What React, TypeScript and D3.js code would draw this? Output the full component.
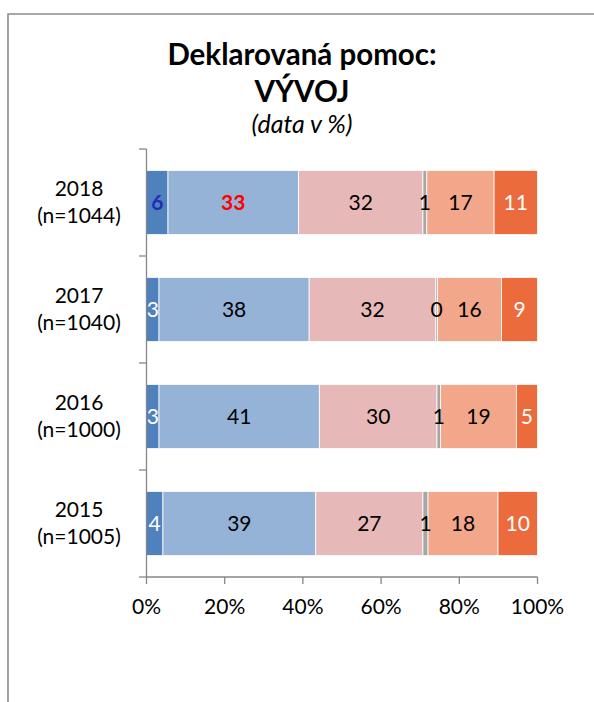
import React from "react"
import * as d3 from "d3"

// years and sample sizes (top to bottom)
const years = ["2018", "2017", "2016", "2015"]
const sampleSizes = ["(n=1044)", "(n=1040)", "(n=1000)", "(n=1005)"]

// answer shares in %, one array per segment, in year order
const seg1 = [5.5, 3.2, 3.2, 4.2]
const seg2 = [33.4, 38.4, 41.0, 39.1]
const seg3 = [31.8, 32.4, 30.1, 27.4]
const seg4 = [1.0, 0.4, 0.9, 1.3]
const seg5 = [17.2, 16.4, 19.4, 17.9]
const seg6 = [11.1, 9.2, 5.4, 10.1]

const xTicks = [0, 20, 40, 60, 80, 100]

const segColors = ["#4f81bd", "#95b3d7", "#e6b9b8", "#a6a6a6", "#f2a68a", "#eb6b3d"]
const labelColors = ["#ffffff", "#000000", "#000000", "#000000", "#000000", "#ffffff"]

const W = 594
const H = 702
const font = "Lato, 'Open Sans', sans-serif"
const axisColor = "#868686"

export default function App() {
    const series = [seg1, seg2, seg3, seg4, seg5, seg6]
    const rows = years.map((y, i) => {
        const row: any = { year: y }
        series.forEach((s, k) => (row["s" + k] = s[i]))
        return row
    })
    const keys = series.map((s, k) => "s" + k)
    const stacked = d3.stack().keys(keys)(rows)

    const x = d3.scaleLinear().domain([0, 100]).range([146.5, 537.5])
    const y = d3.scaleBand().domain(years).range([149, 577]).paddingInner(0.4).paddingOuter(0.2)

    const labelStyle = (k: number, i: number) => {
        // highlighted values in the 2018 row
        if (i === 0 && k === 0) return { fill: "#1f2fb5", weight: 700 }
        if (i === 0 && k === 1) return { fill: "#ff0000", weight: 700 }
        return { fill: labelColors[k], weight: 400 }
    }

    return (
        <svg width={W} height={H} style={{ position: "absolute", left: 0, top: 0, background: "#fff" }}>
            {/* frame */}
            <path d={`M8,${H + 5}V14H${W + 5}`} fill="none" stroke="#8c8c8c" strokeWidth={1.6} />

            {/* title */}
            <g fontFamily={font} textAnchor="middle" fill="#000">
                <text x={302} y={65} fontSize={29.5} fontWeight={700}>Deklarovaná pomoc:</text>
                <text x={302} y={102} fontSize={29.5} fontWeight={700}>VÝVOJ</text>
                <text x={302} y={133} fontSize={25} fontStyle="italic">(data v %)</text>
            </g>

            {/* bars */}
            {stacked.map((layer, k) => (
                <g key={k}>
                    {layer.map((d, i) => (
                        <rect
                            key={i}
                            x={x(d[0])}
                            y={y(years[i])!}
                            width={x(Math.min(d[1], 100)) - x(d[0])}
                            height={y.bandwidth()}
                            fill={segColors[k]}
                            stroke="#fff"
                            strokeWidth={0.8}
                        />
                    ))}
                </g>
            ))}

            {/* value labels */}
            {stacked.map((layer, k) =>
                layer.map((d, i) => {
                    const st = labelStyle(k, i)
                    return (
                        <text
                            key={k + "-" + i}
                            x={x((d[0] + d[1]) / 2)}
                            y={y(years[i])! + y.bandwidth() / 2}
                            dy="0.36em"
                            textAnchor="middle"
                            fontFamily={font}
                            fontSize={21}
                            fontWeight={st.weight}
                            fill={st.fill}
                        >
                            {Math.round(series[k][i])}
                        </text>
                    )
                })
            )}

            {/* y axis */}
            <line x1={146.5} x2={146.5} y1={149} y2={577} stroke={axisColor} strokeWidth={1.3} />
            {d3.range(years.length + 1).map(j => {
                const yy = 149 + j * y.step()
                return <line key={j} x1={139} x2={146.5} y1={yy} y2={yy} stroke={axisColor} strokeWidth={1.3} />
            })}
            {years.map((yr, i) => {
                const cy = y(yr)! + y.bandwidth() / 2
                return (
                    <g key={yr} fontFamily={font} fontSize={21} textAnchor="middle" fill="#000">
                        <text x={79} y={cy - 7}>{yr}</text>
                        <text x={79} y={cy + 20}>{sampleSizes[i]}</text>
                    </g>
                )
            })}

            {/* x axis */}
            <line x1={146.5} x2={537.5} y1={577} y2={577} stroke={axisColor} strokeWidth={1.3} />
            {xTicks.map(t => (
                <g key={t}>
                    <line x1={x(t)} x2={x(t)} y1={577} y2={584} stroke={axisColor} strokeWidth={1.3} />
                    <text x={x(t)} y={614} textAnchor="middle" fontFamily={font} fontSize={21} fill="#000">
                        {t + "%"}
                    </text>
                </g>
            ))}
        </svg>
    )
}
